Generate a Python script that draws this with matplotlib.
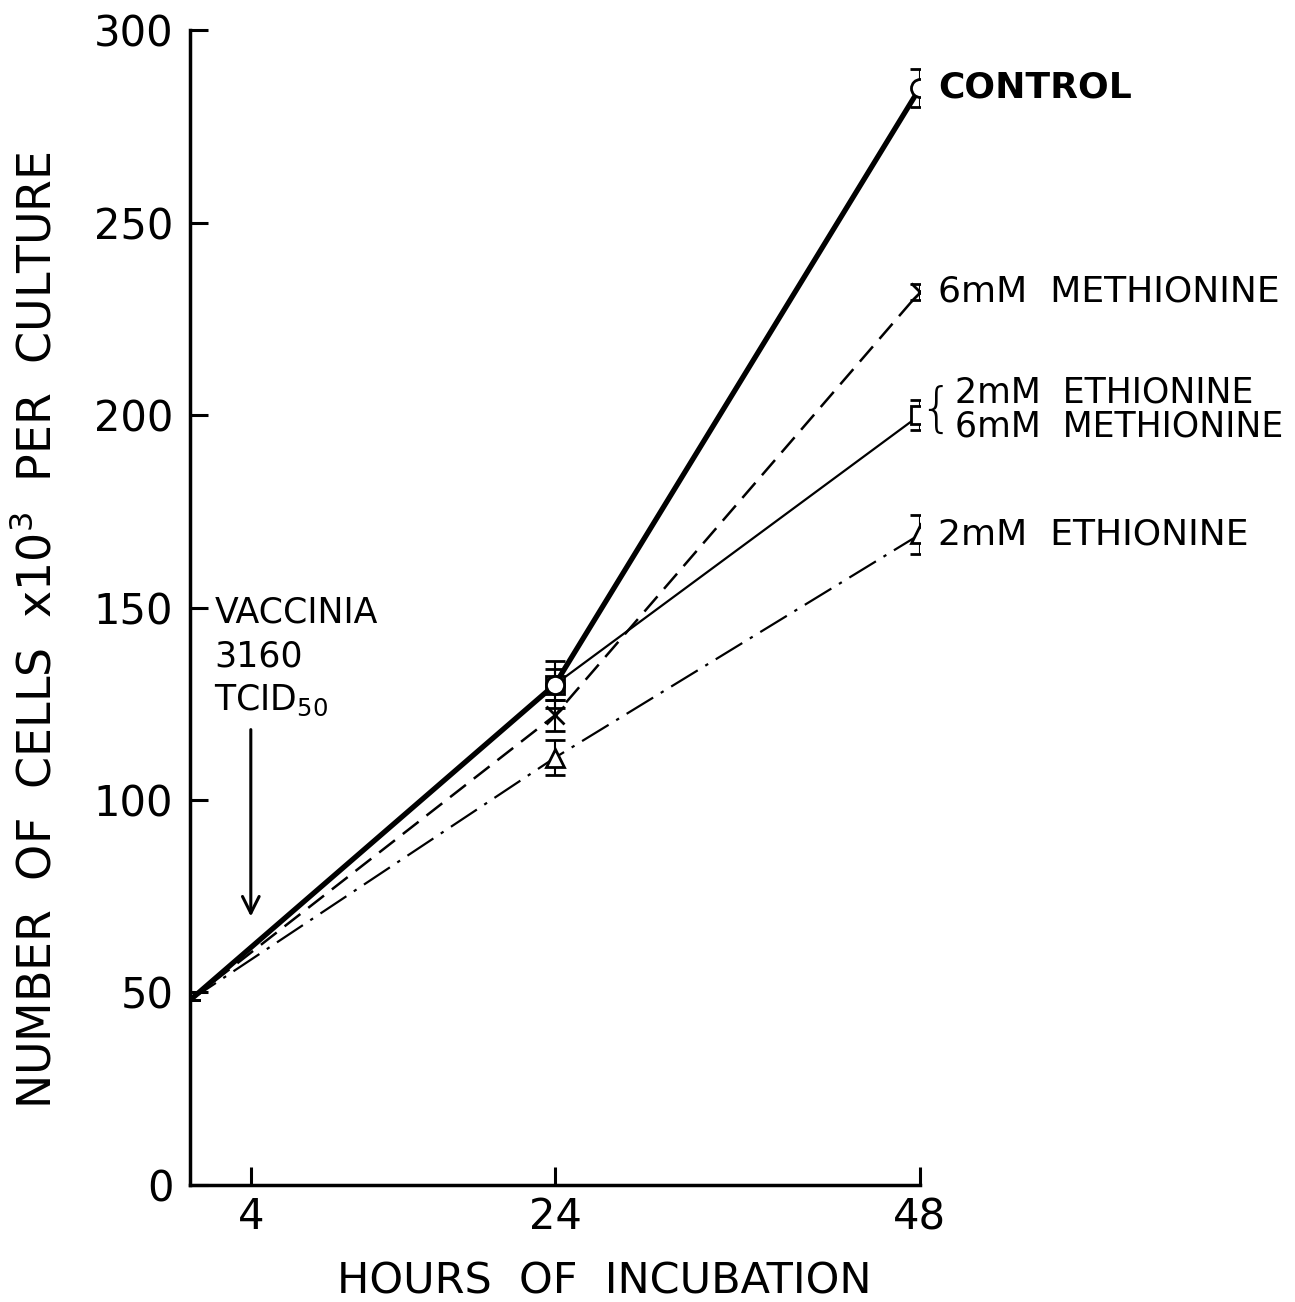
import matplotlib
matplotlib.use("Agg")
import matplotlib.pyplot as plt

# hours of incubation
hours = [0, 24, 48]

# cells x10^3 per culture
control = [48, 130, 285]
control_err = [0, 6, 5]
methionine = [48, 122, 232]
methionine_err = [0, 4, 2]
eth_meth = [48, 130, 200]
eth_meth_err = [0, 4, 4]
ethionine = [48, 111, 169]
ethionine_err = [0, 4.5, 5]

series_labels = ["CONTROL", "6mM  METHIONINE", "2mM  ETHIONINE\n6mM  METHIONINE",
                 "2mM  ETHIONINE"]

x_ticks = [4, 24, 48]
y_ticks = [0, 50, 100, 150, 200, 250, 300]

plt.rcParams["font.family"] = ["DejaVu Sans"]
plt.rcParams["mathtext.fontset"] = "dejavusans"

fig = plt.figure(figsize=(12.95, 13.02), dpi=100)
ax = fig.add_axes([0.1467, 0.0899, 0.5637, 0.887])

common = dict(color="black", capsize=7, elinewidth=1.5, capthick=2,
              markerfacecolor="white", markeredgewidth=2, markersize=13,
              markevery=[1, 2])
ax.errorbar(hours, control, yerr=control_err, lw=3.8, marker="o", ls="-",
            **common, zorder=4)
ax.errorbar(hours, methionine, yerr=methionine_err, lw=1.8, marker="x",
            ls=(0, (8, 4)), **common, zorder=3)
ax.errorbar(hours, eth_meth, yerr=eth_meth_err, lw=1.6, marker="s", ls="-",
            **common, zorder=3)
ax.errorbar(hours, ethionine, yerr=ethionine_err, lw=1.6, marker="^",
            ls=(0, (14, 4, 1.5, 4)), **common, zorder=3)

# labels at the end of each line
label_fs = 26
ax.text(49.2, control[-1], series_labels[0], fontsize=label_fs, va="center",
        ha="left", fontweight="bold", clip_on=False)
ax.text(49.2, methionine[-1], series_labels[1], fontsize=label_fs, va="center",
        ha="left", clip_on=False)
ax.text(50.15, eth_meth[-1] + 1, "{", fontsize=38, va="center", ha="right",
        fontweight="light", clip_on=False)
ax.text(50.3, eth_meth[-1] + 1.5, series_labels[2], fontsize=25,
        va="center", ha="left", linespacing=1.0, clip_on=False)
ax.text(49.2, ethionine[-1], series_labels[3], fontsize=label_fs, va="center",
        ha="left", clip_on=False)

# virus inoculation
ax.text(1.6, 153, "VACCINIA\n3160\nTCID$_{50}$", fontsize=25, va="top",
        ha="left", linespacing=1.35)
ax.annotate("", xy=(4, 69), xytext=(4, 119),
            arrowprops=dict(arrowstyle="->", lw=2.2, color="black",
                            mutation_scale=30))

ax.set_xlim(0, 48)
ax.set_ylim(0, 300)
ax.set_xticks(x_ticks)
ax.set_yticks(y_ticks)
ax.tick_params(direction="in", length=13, width=2.2, labelsize=30, pad=12)
ax.tick_params(axis="x", pad=8)
for side in ("top", "right"):
    ax.spines[side].set_visible(False)
for side in ("left", "bottom"):
    ax.spines[side].set_linewidth(2.5)

ax.set_xlabel("HOURS  OF  INCUBATION", fontsize=31)
ax.xaxis.set_label_coords(0.568, -0.065)
ax.set_ylabel("NUMBER  OF  CELLS  x10$^3$  PER  CULTURE", fontsize=33)
ax.yaxis.set_label_coords(-0.178, 0.48)

fig.savefig("out.png", dpi=100)
